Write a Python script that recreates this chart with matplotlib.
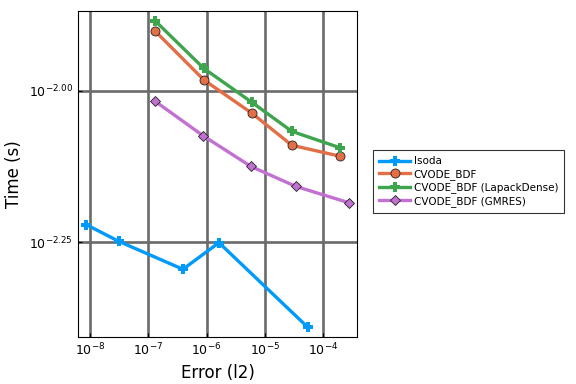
import numpy as np
import matplotlib
matplotlib.use("Agg")
import matplotlib.pyplot as plt
from matplotlib.ticker import FixedLocator, NullLocator

# 数据（log10 值，从图中读取）
lsoda_err = [-8.069, -7.503, -6.405, -5.787, -4.261]
lsoda_time = [-2.221, -2.249, -2.295, -2.251, -2.391]

bdf_err = [-6.885, -6.045, -5.221, -4.535, -3.712]
bdf_time = [-1.901, -1.982, -2.037, -2.090, -2.108]

lapack_err = [-6.885, -6.045, -5.221, -4.535, -3.712]
lapack_time = [-1.884, -1.963, -2.019, -2.067, -2.094]

gmres_err = [-6.885, -6.062, -5.238, -4.467, -3.557]
gmres_time = [-2.017, -2.074, -2.125, -2.158, -2.185]

labels = ["lsoda", "CVODE_BDF", "CVODE_BDF (LapackDense)", "CVODE_BDF (GMRES)"]
colors = ["#009AFA", "#E26F46", "#3EA44E", "#C271D2"]

x_ticks = [-8, -7, -6, -5, -4]
y_ticks = [-2.25, -2.00]

fig = plt.figure(figsize=(5.76, 3.84), dpi=100)
ax = fig.add_axes([78 / 576, 1 - 337 / 384, (357 - 78) / 576, (337 - 11) / 384])

series = [
    (lsoda_err, lsoda_time, "P", 7),
    (bdf_err, bdf_time, "o", 6.5),
    (lapack_err, lapack_time, "P", 7),
    (gmres_err, gmres_time, "D", 5),
]
for (xs, ys, mk, ms), lab, c in zip(series, labels, colors):
    x = 10 ** np.array(xs)
    y = 10 ** np.array(ys)
    if mk == "P":
        ax.plot(x, y, color=c, lw=2.4, marker=mk, ms=ms, mec=c, mew=0, label=lab)
    else:
        ax.plot(x, y, color=c, lw=2.4, marker=mk, ms=ms, mec="#222222", mew=0.6, label=lab)

ax.set_xscale("log")
ax.set_yscale("log")
ax.set_xlim(10 ** -8.206, 10 ** -3.417)
ax.set_ylim(10 ** -2.407, 10 ** -1.868)

ax.xaxis.set_major_locator(FixedLocator([10.0 ** t for t in x_ticks]))
ax.xaxis.set_minor_locator(NullLocator())
ax.set_xticklabels([r"$10^{%d}$" % t for t in x_ticks])
ax.yaxis.set_major_locator(FixedLocator([10.0 ** t for t in y_ticks]))
ax.yaxis.set_minor_locator(NullLocator())
ax.set_yticklabels([r"$10^{-2.25}$", r"$10^{-2.00}$"])

ax.grid(True, color="#6a6a6a", lw=1.9)
ax.set_axisbelow(True)
ax.tick_params(direction="in", length=3, width=0.8, labelsize=9, colors="black")
for s in ax.spines.values():
    s.set_linewidth(0.8)

ax.set_xlabel("Error (l2)", fontsize=12)
ax.set_ylabel("Time (s)", fontsize=12)

leg = ax.legend(loc="center left", bbox_to_anchor=(1.057, 0.477), fontsize=7.5,
                frameon=True, fancybox=False, edgecolor="black", borderaxespad=0,
                handlelength=3.0, handletextpad=0.3, borderpad=0.6, labelspacing=0.25)
leg.get_frame().set_linewidth(0.8)

fig.savefig("out.png", dpi=100)
